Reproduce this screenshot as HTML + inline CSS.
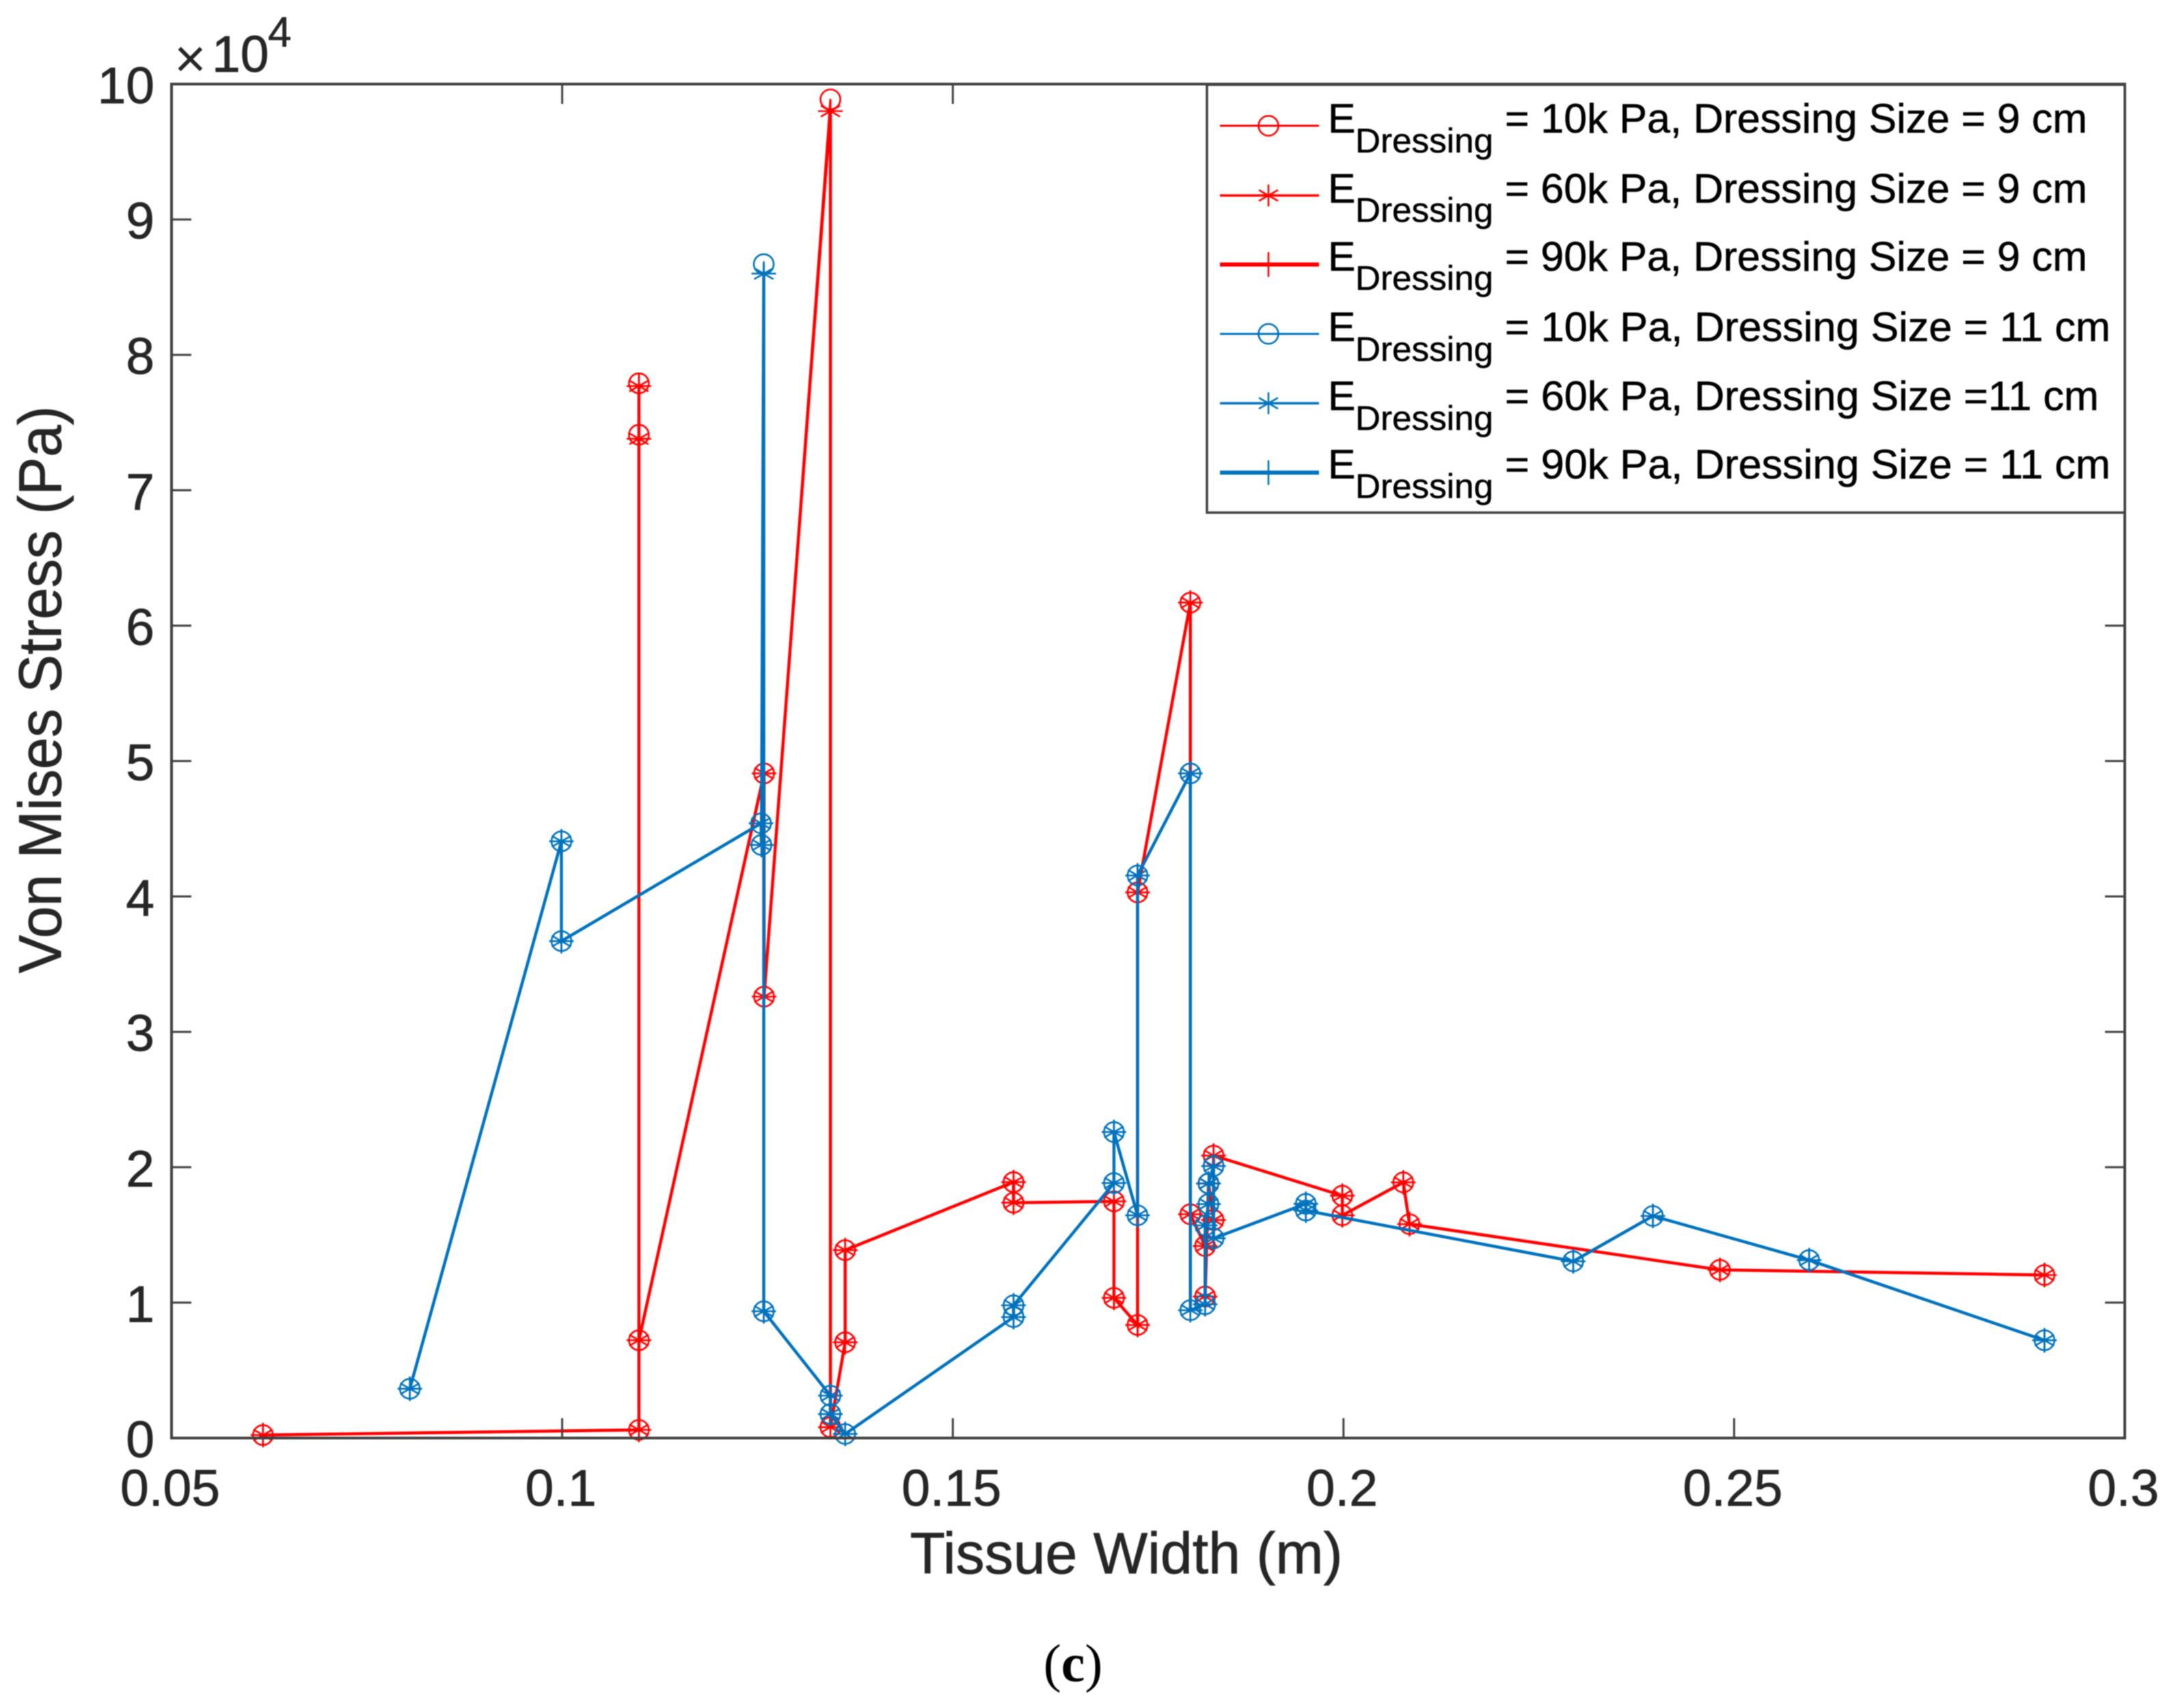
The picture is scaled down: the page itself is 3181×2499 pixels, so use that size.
<!DOCTYPE html>
<html lang="en">
<head>
<meta charset="utf-8">
<title>Von Mises Stress vs Tissue Width</title>
<style>
  html, body { margin: 0; padding: 0; background: #fff; }
  #chart { display: block; width: 3181px; height: 2499px; filter: blur(0.9px); }
  text { font-family: "Liberation Sans", sans-serif; }
  .tick-label { font-size: 75px; fill: #262626; stroke: #262626; stroke-width: 0.8px; }
  .axis-title { font-size: 85px; fill: #262626; stroke: #262626; stroke-width: 0.8px; }
  .legend-main { font-size: 60.5px; fill: #000; stroke: #000; stroke-width: 0.6px; }
  .legend-sub { font-size: 50px; fill: #000; stroke: #000; stroke-width: 0.5px; }
</style>
</head>
<body>
<svg id="chart" xmlns="http://www.w3.org/2000/svg" width="3181" height="2499" viewBox="0 0 3181 2499">
  <rect x="0" y="0" width="3181" height="2499" fill="#ffffff"/>
  <g id="series-layer"></g>
  <g id="axes-layer"></g>

  <text x="255" y="113" style="font-size:80px;fill:#262626">×</text>
  <text x="310" y="105" style="font-size:75px;fill:#262626;stroke:#262626;stroke-width:0.8px">10</text>
  <text x="392" y="68" style="font-size:62px;fill:#262626;stroke:#262626;stroke-width:0.6px">4</text>

  <text class="axis-title" x="1648" y="2302" text-anchor="middle" textLength="633" lengthAdjust="spacingAndGlyphs">Tissue Width (m)</text>
  <text class="axis-title" style="font-size:88px" transform="translate(89,1009) rotate(-90)" text-anchor="middle" textLength="830" lengthAdjust="spacingAndGlyphs">Von Mises Stress (Pa)</text>

  <g>
    <rect x="1766" y="124" width="1343" height="626" fill="#ffffff" stroke="#404040" stroke-width="3.5"/>
    <g id="legend-keys"></g>

    <g>
      <text class="legend-main" x="1943" y="194">E</text>
      <text class="legend-sub" x="1983" y="223" textLength="202" lengthAdjust="spacingAndGlyphs">Dressing</text>
      <text class="legend-main" x="2202" y="194" textLength="852" lengthAdjust="spacingAndGlyphs">= 10k Pa, Dressing Size = 9 cm</text>
    </g>
    <g>
      <text class="legend-main" x="1943" y="296.5">E</text>
      <text class="legend-sub" x="1983" y="324.5" textLength="202" lengthAdjust="spacingAndGlyphs">Dressing</text>
      <text class="legend-main" x="2202" y="296.5" textLength="852" lengthAdjust="spacingAndGlyphs">= 60k Pa, Dressing Size = 9 cm</text>
    </g>
    <g>
      <text class="legend-main" x="1943" y="396">E</text>
      <text class="legend-sub" x="1983" y="424" textLength="202" lengthAdjust="spacingAndGlyphs">Dressing</text>
      <text class="legend-main" x="2202" y="396" textLength="852" lengthAdjust="spacingAndGlyphs">= 90k Pa, Dressing Size = 9 cm</text>
    </g>
    <g>
      <text class="legend-main" x="1943" y="499">E</text>
      <text class="legend-sub" x="1983" y="528" textLength="202" lengthAdjust="spacingAndGlyphs">Dressing</text>
      <text class="legend-main" x="2202" y="499" textLength="886" lengthAdjust="spacingAndGlyphs">= 10k Pa, Dressing Size = 11 cm</text>
    </g>
    <g>
      <text class="legend-main" x="1943" y="600">E</text>
      <text class="legend-sub" x="1983" y="629" textLength="202" lengthAdjust="spacingAndGlyphs">Dressing</text>
      <text class="legend-main" x="2202" y="600" textLength="869" lengthAdjust="spacingAndGlyphs">= 60k Pa, Dressing Size =11 cm</text>
    </g>
    <g>
      <text class="legend-main" x="1943" y="700">E</text>
      <text class="legend-sub" x="1983" y="728.5" textLength="202" lengthAdjust="spacingAndGlyphs">Dressing</text>
      <text class="legend-main" x="2202" y="700" textLength="886" lengthAdjust="spacingAndGlyphs">= 90k Pa, Dressing Size = 11 cm</text>
    </g>
  </g>

  <text x="1570" y="2460" text-anchor="middle" style="font-family:'Liberation Serif',serif;font-size:78px;fill:#000">(<tspan font-weight="bold">c</tspan>)</text>
</svg>

<script>
// ---- Chart data ----
const xTickValues = [0.05, 0.1, 0.15, 0.2, 0.25, 0.3];
const xTickLabels = ['0.05', '0.1', '0.15', '0.2', '0.25', '0.3'];
const yTickValues = [0, 10000, 20000, 30000, 40000, 50000, 60000, 70000, 80000, 90000, 100000];
const yTickLabels = ['0', '1', '2', '3', '4', '5', '6', '7', '8', '9', '10'];

// Tissue width (m), dressing size 9 cm
const widths9cm = [0.0617, 0.10982, 0.10982, 0.10982, 0.10982, 0.12584, 0.12584, 0.13433, 0.13433, 0.13622, 0.13622, 0.15777, 0.15777, 0.17062, 0.17062, 0.17364, 0.17364, 0.1804, 0.1804, 0.18229, 0.18229, 0.18272, 0.18337, 0.18337, 0.19985, 0.19985, 0.20765, 0.20845, 0.24818, 0.28972];
// Von Mises stress (Pa), dressing size 9 cm
const stress10k9cm = [220, 600, 77900, 74100, 7220, 49090, 32600, 98870, 800, 7070, 13880, 18900, 17380, 17480, 10350, 8350, 40300, 61700, 16530, 14180, 10450, 18800, 16100, 20860, 17900, 16450, 18880, 15800, 12420, 12040];
const stress60k9cm = [220, 600, 77700, 73800, 7220, 49090, 32600, 98000, 800, 7070, 13880, 18900, 17380, 17480, 10350, 8350, 40300, 61700, 16530, 14180, 10450, 18800, 16100, 20860, 17900, 16450, 18880, 15800, 12420, 12040];
const stress90k9cm = [220, 600, 77700, 73800, 7220, 49090, 32600, 98000, 800, 7070, 13880, 18900, 17380, 17480, 10350, 8350, 40300, 61700, 16530, 14180, 10450, 18800, 16100, 20860, 17900, 16450, 18880, 15800, 12420, 12040];

// Tissue width (m), dressing size 11 cm
const widths11cm = [0.0805, 0.0999, 0.0999, 0.12545, 0.1255, 0.1258, 0.1258, 0.13433, 0.13433, 0.13622, 0.15777, 0.15777, 0.17062, 0.17062, 0.17364, 0.17364, 0.1804, 0.1804, 0.18229, 0.1823, 0.18272, 0.18272, 0.18337, 0.18337, 0.19518, 0.19518, 0.2294, 0.2396, 0.2596, 0.28972];
// Von Mises stress (Pa), dressing size 11 cm
const stress10k11cm = [3640, 44070, 36700, 45400, 43800, 86700, 9360, 3130, 1770, 300, 8930, 9800, 18830, 22600, 16450, 41550, 49090, 9440, 9880, 15700, 17280, 18800, 20090, 14750, 17300, 16800, 13050, 16400, 13140, 7220];
const stress60k11cm = [3640, 44070, 36700, 45400, 43800, 86000, 9360, 3130, 1770, 300, 8930, 9800, 18830, 22600, 16450, 41550, 49090, 9440, 9880, 15700, 17280, 18800, 20090, 14750, 17300, 16800, 13050, 16400, 13140, 7220];
const stress90k11cm = [3640, 44070, 36700, 45400, 43800, 86000, 9360, 3130, 1770, 300, 8930, 9800, 18830, 22600, 16450, 41550, 49090, 9440, 9880, 15700, 17280, 18800, 20090, 14750, 17300, 16800, 13050, 16400, 13140, 7220];

// ---- Layout ----
const PLOT_LEFT = 251, PLOT_RIGHT = 3109, PLOT_TOP = 123, PLOT_BOTTOM = 2104;
const X_MIN = 0.05, X_MAX = 0.3, Y_MIN = 0, Y_MAX = 100000;
const RED = '#ff0000', BLUE = '#0072bd', AXIS = '#404040';
const NS = 'http://www.w3.org/2000/svg';

function xScale(v) { return PLOT_LEFT + (v - X_MIN) / (X_MAX - X_MIN) * (PLOT_RIGHT - PLOT_LEFT); }
function yScale(v) { return PLOT_BOTTOM - (v - Y_MIN) / (Y_MAX - Y_MIN) * (PLOT_BOTTOM - PLOT_TOP); }

function svgEl(tag, attrs, parent) {
  const el = document.createElementNS(NS, tag);
  for (const k in attrs) el.setAttribute(k, attrs[k]);
  parent.appendChild(el);
  return el;
}

function markerPath(kind, cx, cy) {
  if (kind === 'star') {
    const r = 16, dx = 14, dy = 8;
    return `M${cx},${cy - r}V${cy + r}M${cx - dx},${cy - dy}L${cx + dx},${cy + dy}M${cx - dx},${cy + dy}L${cx + dx},${cy - dy}`;
  }
  const r = 18;
  return `M${cx - r},${cy}H${cx + r}M${cx},${cy - r}V${cy + r}`;
}

function drawMarker(kind, cx, cy, color, parent) {
  if (kind === 'circle') {
    return svgEl('circle', { cx: cx, cy: cy, r: 14.5, fill: 'none', stroke: color, 'stroke-width': 2.6 }, parent);
  }
  return svgEl('path', { d: markerPath(kind, cx, cy), fill: 'none', stroke: color, 'stroke-width': 2.6 }, parent);
}

// ---- Axes ----
const axes = document.getElementById('axes-layer');
const frame = svgEl('rect', { x: PLOT_LEFT, y: PLOT_TOP, width: PLOT_RIGHT - PLOT_LEFT, height: PLOT_BOTTOM - PLOT_TOP, fill: 'none', stroke: AXIS, 'stroke-width': 4 }, axes);



xTickValues.forEach(function (v, i) {
  const x = xScale(v);
  const bottomTick = svgEl('line', { x1: x, x2: x, y1: PLOT_BOTTOM, y2: PLOT_BOTTOM - 29, stroke: AXIS, 'stroke-width': 3 }, axes);
  
  
  const topTick = svgEl('line', { x1: x, x2: x, y1: PLOT_TOP, y2: PLOT_TOP + 29, stroke: AXIS, 'stroke-width': 3 }, axes);
  
  
  const label = svgEl('text', { x: x - 2, y: 2203, 'text-anchor': 'middle', class: 'tick-label' }, axes);
  label.textContent = xTickLabels[i];
  
  
});

yTickValues.forEach(function (v, i) {
  const y = yScale(v);
  const leftTick = svgEl('line', { x1: PLOT_LEFT, x2: PLOT_LEFT + 29, y1: y, y2: y, stroke: AXIS, 'stroke-width': 3 }, axes);
  
  
  const rightTick = svgEl('line', { x1: PLOT_RIGHT, x2: PLOT_RIGHT - 29, y1: y, y2: y, stroke: AXIS, 'stroke-width': 3 }, axes);
  
  
  const label = svgEl('text', { x: 226, y: y + 28, 'text-anchor': 'end', class: 'tick-label' }, axes);
  label.textContent = yTickLabels[i];
  
  
});

// ---- Series ----
const seriesLayer = document.getElementById('series-layer');

function drawSeries(xs, ys, color, width, kind, name) {
  const g = svgEl('g', {}, seriesLayer);
  
  
  const pts = xs.map(function (x, i) { return xScale(x) + ',' + yScale(ys[i]); }).join(' ');
  const line = svgEl('polyline', { points: pts, fill: 'none', stroke: color, 'stroke-width': width, 'stroke-linejoin': 'miter' }, g);
  
  
  xs.forEach(function (x, i) {
    const m = drawMarker(kind, xScale(x), yScale(ys[i]), color, g);
    
    
  });
}

drawSeries(widths9cm, stress10k9cm, RED, 3, 'circle', 'series-10k-9cm');
drawSeries(widths9cm, stress60k9cm, RED, 3.5, 'star', 'series-60k-9cm');
drawSeries(widths9cm, stress90k9cm, RED, 4.5, 'plus', 'series-90k-9cm');
drawSeries(widths11cm, stress10k11cm, BLUE, 3, 'circle', 'series-10k-11cm');
drawSeries(widths11cm, stress60k11cm, BLUE, 3.5, 'star', 'series-60k-11cm');
drawSeries(widths11cm, stress90k11cm, BLUE, 4.5, 'plus', 'series-90k-11cm');

// ---- Legend keys ----
const legendKeys = document.getElementById('legend-keys');
function drawKey(y, color, width, kind) {
  const line = svgEl('line', { x1: 1785, x2: 1930, y1: y, y2: y, stroke: color, 'stroke-width': width }, legendKeys);
  
  
  const m = drawMarker(kind, 1856, y, color, legendKeys);
  
  
}
drawKey(184, RED, 3, 'circle');
drawKey(286, RED, 3.5, 'star');
drawKey(387, RED, 6, 'plus');
drawKey(488.5, BLUE, 3, 'circle');
drawKey(590, BLUE, 3.5, 'star');
drawKey(691.5, BLUE, 6, 'plus');
</script>
</body>
</html>
